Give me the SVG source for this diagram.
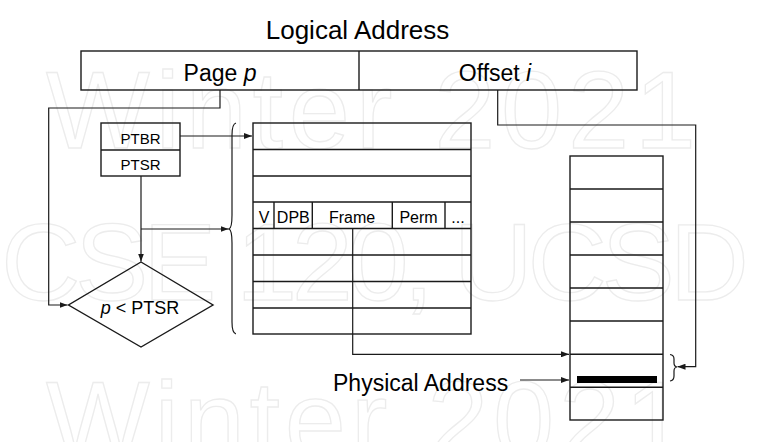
<svg xmlns="http://www.w3.org/2000/svg" width="758" height="442" viewBox="0 0 758 442">
<style>
  .wm{font-family:"Liberation Sans",Arial,sans-serif;font-size:110px;fill:none;stroke:#ececec;stroke-width:1.3}
  .box{fill:none;stroke:#1a1a1a;stroke-width:1.4}
  .ln{fill:none;stroke:#1a1a1a;stroke-width:1.2}
  .t{font-family:"Liberation Sans",Arial,sans-serif;fill:#000;text-anchor:middle}
</style>
<defs>
  <marker id="ah" markerUnits="userSpaceOnUse" markerWidth="8" markerHeight="6" refX="8" refY="3" orient="auto">
    <path d="M0,0 L8,3 L0,6 z" fill="#1a1a1a"/>
  </marker>
</defs>
<rect width="758" height="442" fill="#fff"/>
<g id="watermark">
  <text class="wm" x="46" y="148" textLength="650" lengthAdjust="spacing">Winter 2021</text>
  <text class="wm" x="1" y="300" textLength="748" lengthAdjust="spacing">CSE 120, UCSD</text>
  <text class="wm" x="46" y="458" textLength="640" lengthAdjust="spacing">Winter 2021</text>
</g>
<g id="logical-address">
  <text class="t" x="357.5" y="39" font-size="26">Logical Address</text>
  <rect class="box" x="81" y="51" width="556" height="39"/>
  <line class="box" x1="359" y1="51" x2="359" y2="90"/>
  <text class="t" x="220" y="81" font-size="23">Page <tspan font-style="italic">p</tspan></text>
  <text class="t" x="495" y="81" font-size="23">Offset <tspan font-style="italic">i</tspan></text>
</g>
<g id="registers">
  <rect class="box" x="101" y="123" width="79" height="53"/>
  <line class="box" x1="101" y1="150" x2="180" y2="150"/>
  <text class="t" x="140.5" y="144" font-size="15">PTBR</text>
  <text class="t" x="140.5" y="170" font-size="15">PTSR</text>
</g>
<g id="page-table">
  <rect class="box" x="253" y="123" width="218" height="211"/>
  <path class="box" d="M253,149.5H471M253,176H471M253,202H471M253,228.5H471M253,255H471M253,281.5H471M253,308H471"/>
  <path class="box" d="M274,202V228.5M312.3,202V228.5M392.3,202V228.5M445,202V228.5"/>
  <g class="t" font-size="16">
    <text x="264" y="223">V</text>
    <text x="293.3" y="223">DPB</text>
    <text x="352" y="223">Frame</text>
    <text x="418.5" y="223">Perm</text>
    <text x="458" y="223">...</text>
  </g>
</g>
<g id="page-table-brace">
  <path class="ln" d="M236,123 Q232,124 232,135 L232,215 Q232,228 229,229 Q232,230 232,243 L232,322 Q232,333 236,334"/>
</g>
<g id="check">
  <polygon class="box" points="141,262 213,305 141,347 68.5,305"/>
  <text class="t" x="140" y="314" font-size="18"><tspan font-style="italic">p</tspan> &lt; PTSR</text>
</g>
<g id="memory">
  <rect class="box" x="570" y="156" width="93" height="264"/>
  <path class="box" d="M570,189H663M570,222H663M570,255H663M570,288H663M570,321H663M570,354.3H663M570,387.3H663"/>
  <rect x="577" y="376" width="80" height="7" fill="#000"/>
</g>
<g id="memory-brace">
  <path class="ln" d="M670,354.5 Q674,355 674,359 L674,363 Q674,366.5 677,367 Q674,367.5 674,371 L674,376 Q674,380.5 670,381"/>
</g>
<g id="physical-address">
  <text x="333" y="391" font-family="'Liberation Sans',Arial,sans-serif" font-size="23" fill="#000">Physical Address</text>
</g>
<g id="connectors">
  <path class="ln" d="M220,90V108H48.7V305H67.5" marker-end="url(#ah)"/>
  <path class="ln" d="M497.7,90V125H695.7V366.7H677.5" marker-end="url(#ah)"/>
  <path class="ln" d="M180,136H252" marker-end="url(#ah)"/>
  <path class="ln" d="M141,176V261.5" marker-end="url(#ah)"/>
  <path class="ln" d="M141,229H228.5" marker-end="url(#ah)"/>
  <path class="ln" d="M352.7,228.5V354.3H569" marker-end="url(#ah)"/>
  <path class="ln" d="M520,380H569" marker-end="url(#ah)"/>
</g>
</svg>
